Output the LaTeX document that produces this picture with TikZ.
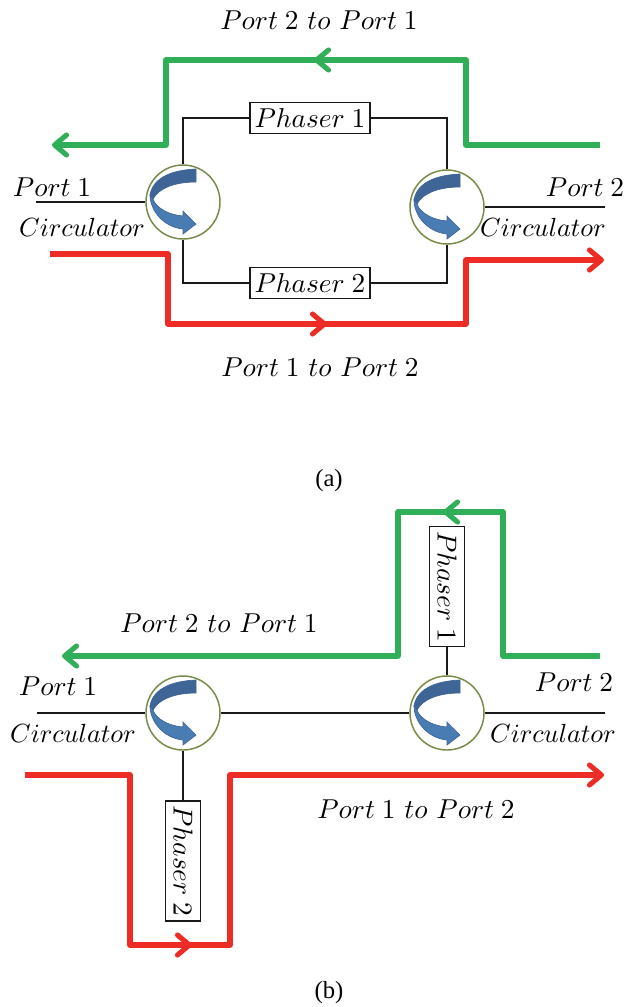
\documentclass[tikz,border=0pt]{standalone}
\usepackage{fontspec}
\setmainfont{Liberation Serif}
\usetikzlibrary{arrows.meta}
\newcommand{\lbl}[1]{\scalebox{2.05}{$#1$}}
\newcommand{\lblc}[1]{\scalebox{1.97}{$#1$}}
\newcommand{\gap}{\ \mskip1.4mu}
\definecolor{pathgreen}{RGB}{49,174,88}
\definecolor{pathred}{RGB}{238,44,38}
\definecolor{ringolive}{RGB}{118,138,72}
\definecolor{swirldark}{RGB}{62,101,150}
\definecolor{swirllight}{RGB}{74,124,180}
\tikzset{every picture/.style={line width=0.75pt},
  wire/.style={draw=black!90,line width=1.8pt},
  ring/.style={circle,draw=ringolive,line width=1.1pt,minimum size=55.5pt,inner sep=0pt},
  phaser/.style={draw=black!90,fill=white,line width=1.2pt,minimum width=90pt,minimum height=23pt,inner sep=0pt},
  upright/.style={phaser,rotate=-90,minimum height=26pt},
  txt/.style={inner sep=0pt},
  route/.style={line width=3.8pt,line join=round},
  greenroute/.style={route,draw=pathgreen},
  redroute/.style={route,draw=pathred},
  tip/.style={-{Straight Barb[length=9pt,width=15pt,round]}},
  swirl/.pic={
    \filldraw [fill=swirldark,draw=swirldark,line width=0.5pt] (13,-33) .. controls (-10,-32) and (-30,-25) .. (-33,-7) -- (-30,-3) .. controls (-24,-14) and (-8,-20) .. (13,-20) -- cycle;
    \filldraw [fill=swirllight,draw=swirldark,line width=0.5pt] (-33,-7) .. controls (-33,8) and (-20,25) .. (0,27) -- (0,32) -- (13,22) -- (0,9) -- (0,14) .. controls (-14,13) and (-27,6) .. (-30,-3) -- cycle;
  }}
\begin{document}
\begin{tikzpicture}[x=0.75pt,y=0.75pt,yscale=-1,xscale=1]
\useasboundingbox (0,0) rectangle (638,1007);

% Part a
\node [ring] (ringAL) at (183,202) {};
\node [ring] (ringAR) at (447,207) {};
\node [phaser] (phaserAT) at (310,118) {\lbl{Phaser\ 1}};
\node [phaser] (phaserAB) at (310,283) {\lbl{Phaser\ 2}};
\coordinate (portAL) at (36,202);
\coordinate (portAR) at (605,207);
\draw [wire] (portAL) -- (ringAL);
\draw [wire] (ringAR) -- (portAR);
\draw [wire] (ringAL.north) |- (phaserAT.west);
\draw [wire] (phaserAT.east) -| (ringAR.north);
\draw [wire] (ringAL.south) |- (phaserAB.west);
\draw [wire] (phaserAB.east) -| (ringAR.south);
\pic [yscale=-1] at (ringAL) {swirl};
\pic [yscale=-1] at (ringAR) {swirl};

%Green route a
\coordinate (greenAs) at (600,145);
\coordinate (greenAm) at (314,60);
\coordinate (greenAe) at (52,145);
\draw [greenroute,tip] (greenAs) -- (466,145) -- (466,60) -- (166,60) -- (166,145) -- (greenAe);
\draw [greenroute,tip] (340,60) -- (greenAm);
%Red route a
\coordinate (redAs) at (50,254);
\coordinate (redAm) at (327,324);
\coordinate (redAe) at (604,260);
\draw [redroute,tip] (redAs) -- (168,254) -- (168,324) -- (466,324) -- (466,260) -- (redAe);
\draw [redroute,tip] (300,324) -- (redAm);

% Text Node
\node [txt] (topA) at (319,20) {\lbl{Port\ 2\gap to\gap Port\ 1}};
\node [txt] (botA) at (320,367) {\lbl{Port\ 1\gap to\gap Port\ 2}};
\node [txt] (p1A) at (52,187) {\lbl{Port\ 1}};
\node [txt] (p2A) at (585,187) {\lbl{Port\ 2}};
\node [txt] (cLA) at (82,227) {\lblc{Circulator}};
\node [txt] (cRA) at (543,227) {\lblc{Circulator}};
\node [txt] (capA) at (329,481) {\fontsize{18.5}{20}\selectfont (a)};

% Part b
\node [ring] (ringBL) at (183,713) {};
\node [ring] (ringBR) at (447,713) {};
\node [upright] (phaserBT) at (447,586.5) {\lbl{Phaser\ 1}};
\node [upright] (phaserBB) at (183,861) {\lbl{Phaser\ 2}};
\coordinate (portBL) at (37,713);
\coordinate (portBR) at (605,713);
\draw [wire] (portBL) -- (ringBL);
\draw [wire] (ringBL) -- (ringBR);
\draw [wire] (ringBR) -- (portBR);
\draw [wire] (ringBR.north) -- (phaserBT.east);
\draw [wire] (ringBL.south) -- (phaserBB.west);
\pic [yscale=-1] at (ringBL) {swirl};
\pic [yscale=-1] at (ringBR) {swirl};

%Green route b
\coordinate (greenBs) at (600,656);
\coordinate (greenBm) at (443,512);
\coordinate (greenBe) at (62,656);
\draw [greenroute,tip] (greenBs) -- (503,656) -- (503,512) -- (398,512) -- (398,656) -- (greenBe);
\draw [greenroute,tip] (470,512) -- (greenBm);
%Red route b
\coordinate (redBs) at (25,775);
\coordinate (redBm) at (192,945);
\coordinate (redBe) at (604,775);
\draw [redroute,tip] (redBs) -- (130,775) -- (130,945) -- (230,945) -- (230,775) -- (redBe);
\draw [redroute,tip] (165,945) -- (redBm);

% Text Node
\node [txt] (topB) at (219,623) {\lbl{Port\ 2\gap to\gap Port\ 1}};
\node [txt] (botB) at (416,809) {\lbl{Port\ 1\gap to\gap Port\ 2}};
\node [txt] (p1B) at (58,686) {\lbl{Port\ 1}};
\node [txt] (p2B) at (574,682) {\lbl{Port\ 2}};
\node [txt] (cLB) at (73,733) {\lblc{Circulator}};
\node [txt] (cRB) at (553,733) {\lblc{Circulator}};
\node [txt] (capB) at (329,993) {\fontsize{18.5}{20}\selectfont (b)};
\end{tikzpicture}
\end{document}
